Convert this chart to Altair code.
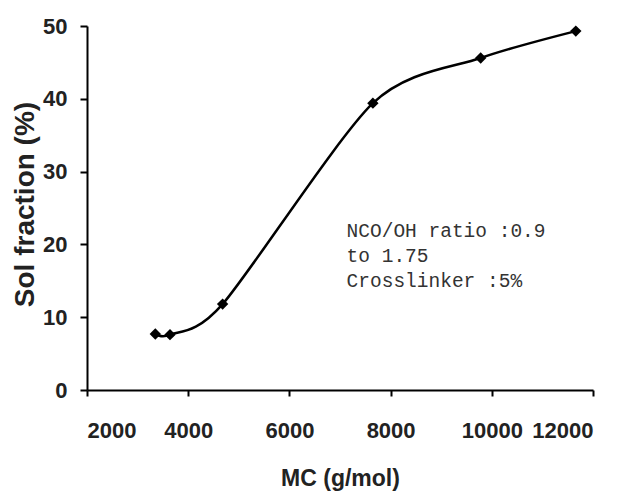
import altair as alt
import pandas as pd

mc = [3350, 3640, 4680, 7650, 9780, 11660]
sol = [7.7, 7.6, 11.8, 39.4, 45.6, 49.3]

df = pd.DataFrame({"MC": mc, "Sol": sol})
note = pd.DataFrame({"x": [7130], "y": [21.0],
                     "t": ["NCO/OH ratio :0.9\nto 1.75\nCrosslinker :5%"]})

xs = alt.Scale(domain=[2000, 12000], nice=False, zero=False)
ys = alt.Scale(domain=[0, 50], nice=False)

xaxis = alt.Axis(values=[2000, 4000, 6000, 8000, 10000, 12000], format="d",
                 title="MC (g/mol)", grid=False, domainColor="black", domainWidth=2,
                 tickColor="black", tickWidth=2, tickSize=6,
                 labelFont="Liberation Sans", labelFontWeight="bold",
                 labelFontSize=22, labelColor="#222", labelPadding=24,
                 titleFont="Liberation Sans", titleFontWeight="bold",
                 titleFontSize=23, titleColor="#222",
                 titleBaseline="alphabetic", titleY=95)
yaxis = alt.Axis(values=[0, 10, 20, 30, 40, 50], title="Sol fraction (%)",
                 grid=False, domainColor="black", domainWidth=2,
                 tickColor="black", tickWidth=2, tickSize=7,
                 labelFont="Liberation Sans", labelFontWeight="bold",
                 labelFontSize=22, labelColor="#222", labelPadding=13,
                 titleFont="Liberation Sans", titleFontWeight="bold",
                 titleFontSize=28, titleColor="#222",
                 titleBaseline="alphabetic", titleX=-54, titleY=178)

line = alt.Chart(df).mark_line(color="black", strokeWidth=2.5, interpolate="cardinal",
                               tension=0.2).encode(
    x=alt.X("MC:Q", scale=xs, axis=xaxis),
    y=alt.Y("Sol:Q", scale=ys, axis=yaxis),
)
pts = alt.Chart(df).mark_point(shape="diamond", filled=True, color="black", size=130, opacity=1).encode(
    x=alt.X("MC:Q", scale=xs), y=alt.Y("Sol:Q", scale=ys)
)
txt = alt.Chart(note).mark_text(font="Liberation Mono", fontSize=19.5, align="left",
                                baseline="alphabetic", lineBreak="\n", lineHeight=25,
                                color="#333").encode(
    x=alt.X("x:Q", scale=xs), y=alt.Y("y:Q", scale=ys), text="t:N"
)

chart = (line + pts + txt).properties(
    width=506, height=364,
    padding={"left": 79, "top": 18, "right": 24, "bottom": 101},
    autosize=alt.AutoSizeParams(type="none"),
    background="white",
).configure_view(stroke=None)

chart.save("out.html", embed_options={"renderer": "svg", "actions": False})
